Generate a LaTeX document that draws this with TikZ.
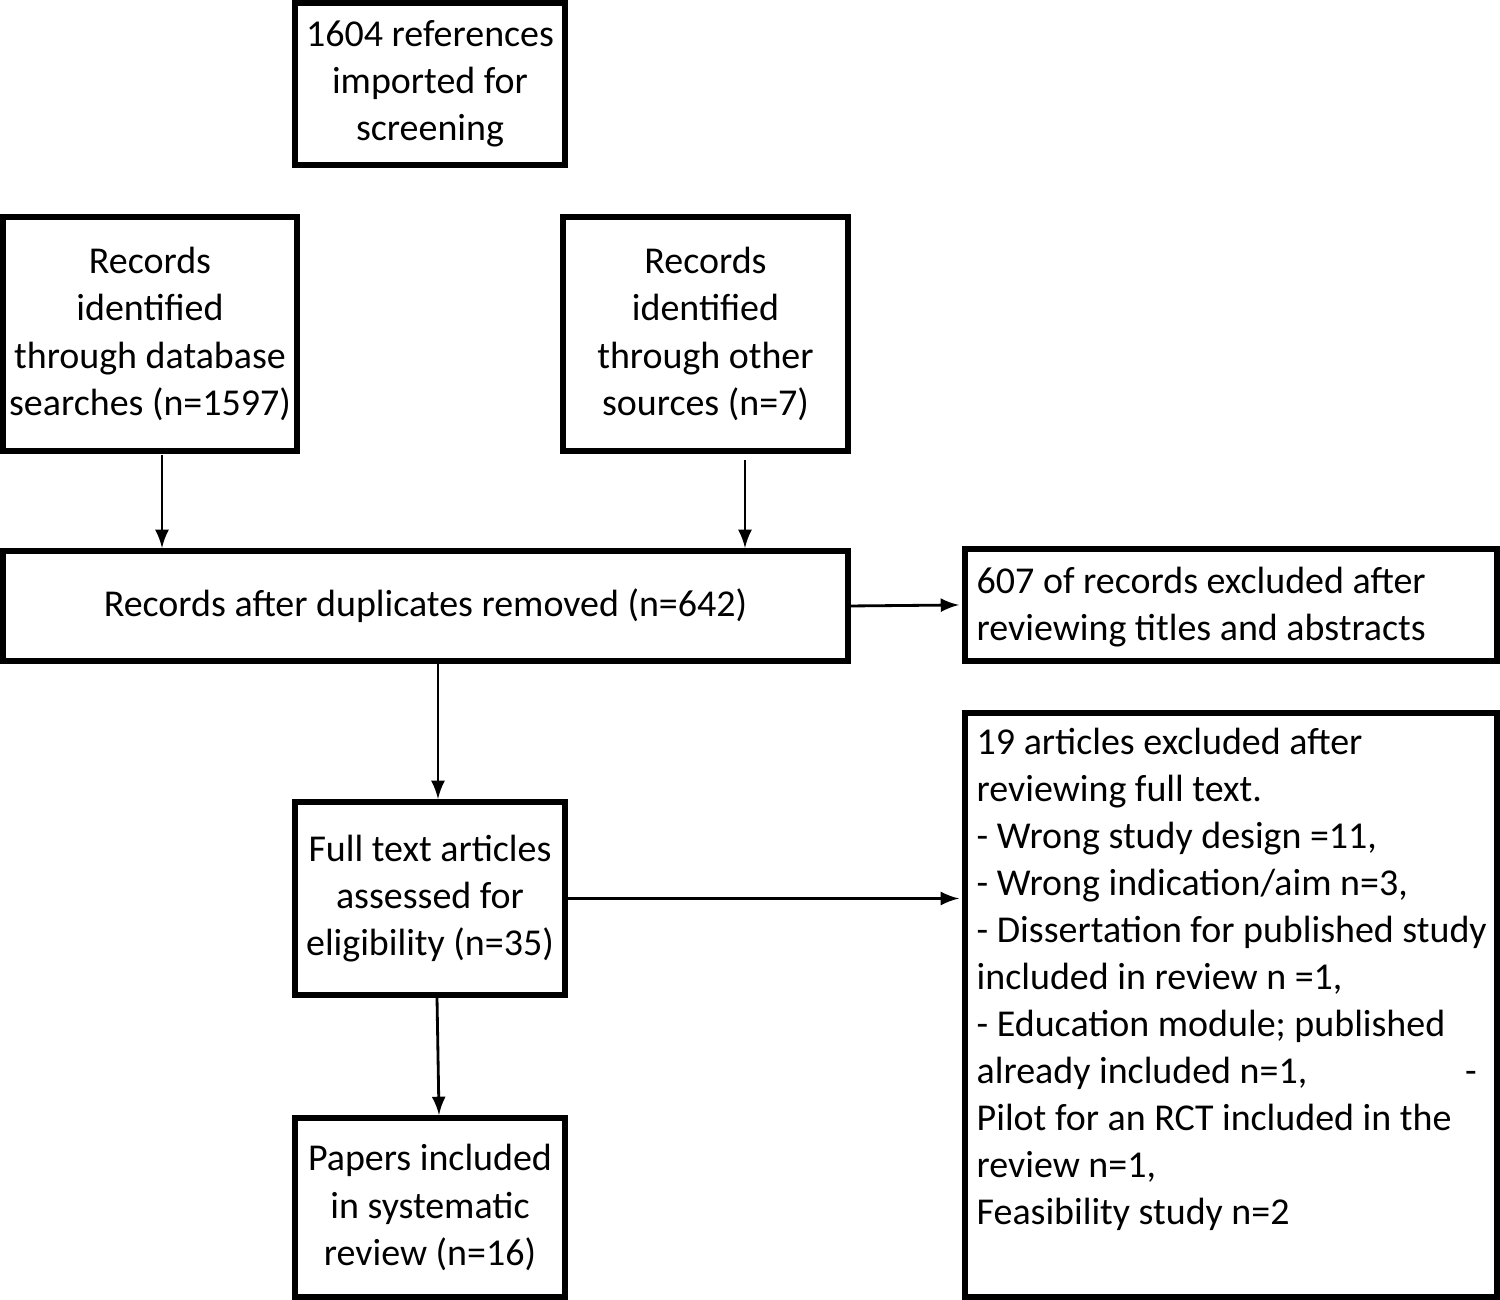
\documentclass[tikz,border=0pt]{standalone}
\usepackage{fontspec}
\setmainfont{Carlito}
\begin{document}
\begin{tikzpicture}[
	box/.style={draw, line width=1.7pt, inner sep=0pt, align=center,
		font=\fontsize{10.8}{13.4}\selectfont},
	arr/.style={-latex, line width=0.8pt, >={latex[scale=1.3]}}]
	\useasboundingbox (0,0) rectangle (15,13);
	\node[box, minimum width=2.7cm, minimum height=1.62cm] (imp) at (4.30,12.16) {1604 references\\imported for\\screening};
	\node[box, minimum width=2.94cm, minimum height=2.34cm] (db) at (1.50,9.66) {Records\\identified\\through database\\searches (n=1597)};
	\node[box, minimum width=2.85cm, minimum height=2.34cm] (oth) at (7.055,9.66) {Records\\identified\\through other\\sources (n=7)};
	\node[box, minimum width=8.45cm, minimum height=1.10cm] (dup) at (4.255,6.94) {Records after duplicates removed (n=642)};
	\node[box, minimum width=5.32cm, minimum height=1.12cm] (ex1) at (12.31,6.95) {};
	\node[anchor=west, align=left, inner sep=0pt, font=\fontsize{10.8}{13.4}\selectfont] (ex1t) at (9.76,6.93) {607 of records excluded after\\reviewing titles and abstracts};
	\node[box, minimum width=2.7cm, minimum height=1.93cm] (full) at (4.30,4.015) {Full text articles\\assessed for\\eligibility (n=35)};
	\node[box, minimum width=5.32cm, minimum height=5.84cm] (ex2) at (12.31,2.95) {};
	\node[anchor=north west, align=left, inner sep=0pt, font=\fontsize{10.8}{13.4}\selectfont] (ex2l) at (9.76,5.73) {19 articles excluded after\\reviewing full text.\\- Wrong study design =11,\\- Wrong indication/aim n=3,\\- Dissertation for published study\\included in review n =1,\\- Education module; published\\\makebox[5.0cm][l]{already included n=1,\hfill-}\\Pilot for an RCT included in the\\review n=1,\\Feasibility study n=2};
	\node[box, minimum width=2.7cm, minimum height=1.79cm] (pap) at (4.30,0.925) {Papers included\\in systematic\\review (n=16)};
	% connectors
	\coordinate (a1) at (1.62,8.45);
	\coordinate (a2) at (7.45,8.40);
	\coordinate (a3) at (4.38,6.39);
	\draw[arr] (a1) -- (a1 |- dup.north);
	\draw[arr] (a2) -- (a2 |- dup.north);
	\draw[arr] (dup.east) -- ([xshift=-0.03cm]ex1.west);
	\draw[arr] (a3) -- (a3 |- full.north);
	\draw[arr] (full.east) -- ([xshift=-0.03cm]full.east -| ex2.west);
	\draw[arr] ([xshift=1.45cm]full.south west) -- ([xshift=1.47cm]pap.north west);
\end{tikzpicture}
\end{document}
